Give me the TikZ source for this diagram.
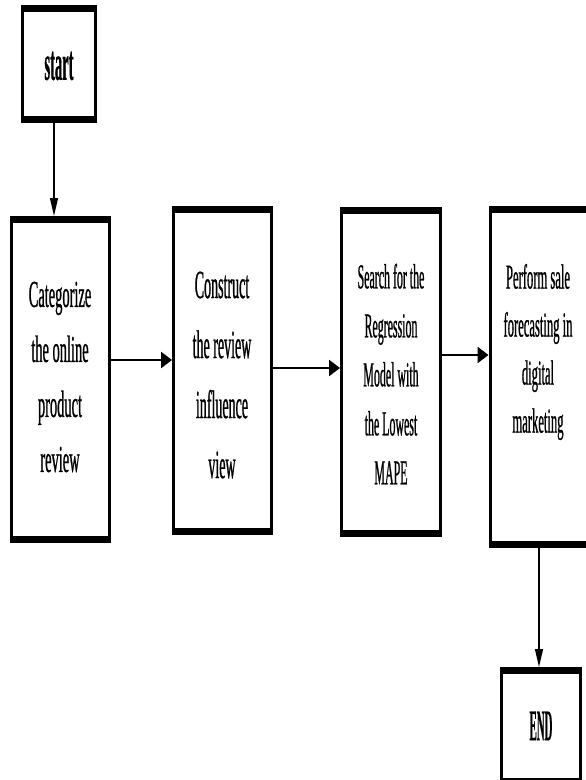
\documentclass[tikz,border=0pt]{standalone}
\usepackage{fontspec}
\setmainfont{Liberation Serif}
\newfontfamily\fstart[FakeStretch=0.29,FakeBold=0.3]{Liberation Serif Bold}
\newfontfamily\fend[FakeStretch=0.245,FakeBold=0.3]{Liberation Serif Bold}
\newfontfamily\fa[FakeStretch=0.38,FakeBold=0.6]{Liberation Serif}
\newfontfamily\fb[FakeStretch=0.35,FakeBold=0.6]{Liberation Serif}
\newfontfamily\fc[FakeStretch=0.34,FakeBold=0.6]{Liberation Serif}
\newfontfamily\fd[FakeStretch=0.36,FakeBold=0.6]{Liberation Serif}
\usetikzlibrary{arrows.meta}
\tikzset{
  flowbox/.style={draw=black, line width=3pt, inner sep=0pt, rectangle,
    path picture={
      \fill[black] (path picture bounding box.north west) rectangle ([yshift=-5.5pt]path picture bounding box.north east);
      \fill[black] (path picture bounding box.south west) rectangle ([yshift=5.5pt]path picture bounding box.south east);
    }},
  boxtext/.style={align=center, inner sep=0pt, text=black},
  harrow/.style={line width=2.6pt, -{Triangle[length=11pt,width=16pt]}},
  varrow/.style={line width=1.4pt, -{Triangle[length=18pt,width=8pt]}}
}
\begin{document}
\begin{tikzpicture}[x=1pt,y=-1pt]
\useasboundingbox (0,0) rectangle (586,780);
\clip (0,0) rectangle (586,780);
% boxes
\node[flowbox, minimum width=73pt, minimum height=115pt] (s) at (59,64) {};
\node[flowbox, minimum width=98pt, minimum height=324pt] (b1) at (60.5,379.5) {};
\node[flowbox, minimum width=98pt, minimum height=326pt] (b2) at (222.5,370.5) {};
\node[flowbox, minimum width=99pt, minimum height=327pt] (b3) at (391,372) {};
\node[flowbox, minimum width=110pt, minimum height=339pt] (b4) at (545,377) {};
\node[flowbox, minimum width=79pt, minimum height=115pt] (e) at (541,726) {};
% texts
\node[boxtext, font=\fstart\fontsize{50}{56}\selectfont] (ts) at ([yshift=-2pt]s.center) {start};
\node[boxtext, font=\fend\fontsize{44}{50}\selectfont] (te) at (e.center) {END};
\node[boxtext, font=\fa\fontsize{38}{55}\selectfont] (t1) at (60,377) {Categorize\\the online\\product\\review};
\node[boxtext, font=\fb\fontsize{40}{60}\selectfont] (t2) at (222,375) {Construct\\the review\\influence\\view};
\node[boxtext, font=\fc\fontsize{35}{49}\selectfont] (t3) at (391,374) {Search for the\\Regression\\Model with\\the Lowest\\MAPE};
\node[boxtext, font=\fd\fontsize{35}{48}\selectfont] (t4) at (538,352) {Perform sale\\forecasting in\\digital\\marketing};
% connectors
\coordinate (a0) at ([xshift=-5pt]s.south);
\draw[varrow] (a0) -- (a0 |- b1.north);
\coordinate (a1) at ([yshift=19.5pt]b1.east);
\draw[harrow] (a1) -- (a1 -| b2.west);
\coordinate (a2) at ([yshift=2.5pt]b2.east);
\draw[harrow] (a2) -- (a2 -| b3.west);
\coordinate (a3) at ([yshift=17pt]b3.east);
\draw[harrow] (a3) -- (a3 -| b4.west);
\coordinate (a4) at ([xshift=-6pt]b4.south);
\draw[varrow] (a4) -- (a4 |- e.north);
\end{tikzpicture}
\end{document}
